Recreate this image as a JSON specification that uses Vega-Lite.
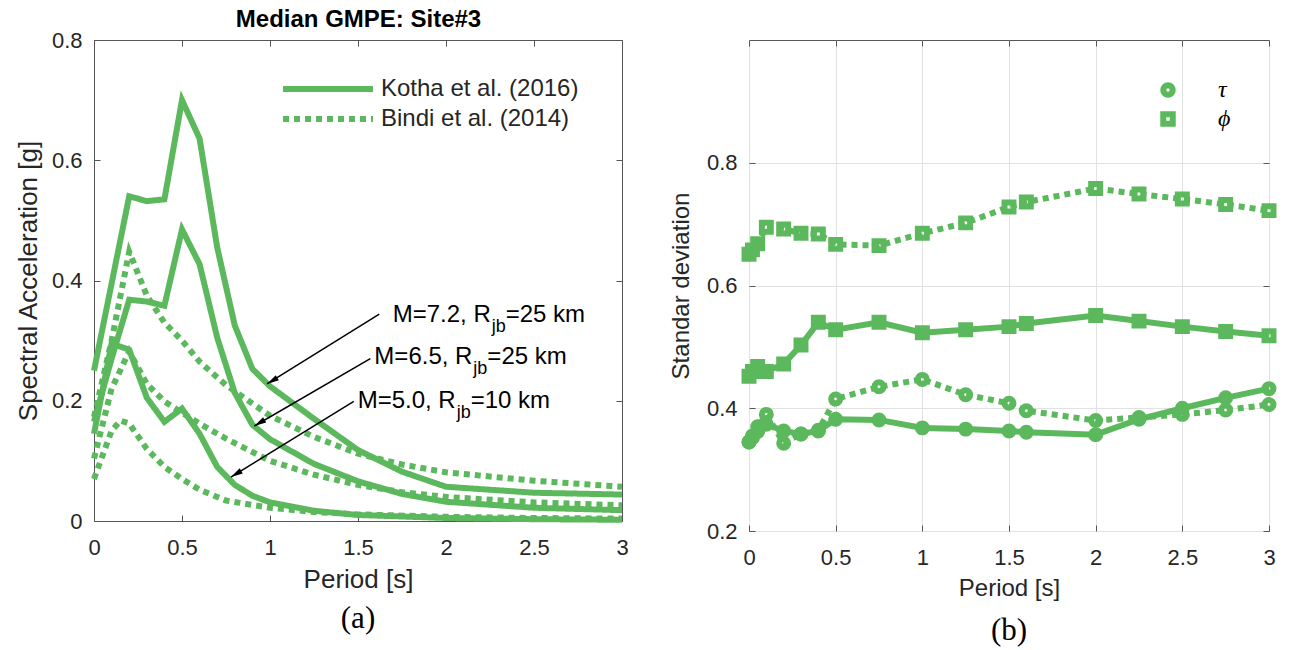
{
  "$schema": "https://vega.github.io/schema/vega-lite/v6.json",
  "background": "white",
  "padding": {"left": 14, "top": 7, "right": 0, "bottom": 0},
  "spacing": 33,
  "columns": 2,
  "align": "none",
  "config": {
    "font": "Liberation Sans",
    "view": {"stroke": "#555555", "strokeWidth": 1},
    "axis": {
      "labelFontSize": 22, "labelColor": "#262626", "titleColor": "#262626",
      "titleFontWeight": "normal", "titleFontSize": 24, "domain": false,
      "tickColor": "#555555", "tickWidth": 1, "labelFlush": false, "grid": false,
      "gridColor": "#e2e2e2", "labelPadding": 12, "titlePadding": 12, "labelOverlap": false
    },
    "legend": {"padding": 0, "labelFontSize": 23, "labelColor": "#262626", "labelLimit": 0}
  },
  "datasets": {
    "sa": [
      {"model": "Kotha et al. (2016)", "case": "7.2", "T": 0, "SA": 0.25},
      {"model": "Kotha et al. (2016)", "case": "7.2", "T": 0.1, "SA": 0.395},
      {"model": "Kotha et al. (2016)", "case": "7.2", "T": 0.2, "SA": 0.54},
      {"model": "Kotha et al. (2016)", "case": "7.2", "T": 0.3, "SA": 0.532},
      {"model": "Kotha et al. (2016)", "case": "7.2", "T": 0.4, "SA": 0.535},
      {"model": "Kotha et al. (2016)", "case": "7.2", "T": 0.5, "SA": 0.7},
      {"model": "Kotha et al. (2016)", "case": "7.2", "T": 0.6, "SA": 0.636},
      {"model": "Kotha et al. (2016)", "case": "7.2", "T": 0.7, "SA": 0.455},
      {"model": "Kotha et al. (2016)", "case": "7.2", "T": 0.8, "SA": 0.325},
      {"model": "Kotha et al. (2016)", "case": "7.2", "T": 0.9, "SA": 0.253},
      {"model": "Kotha et al. (2016)", "case": "7.2", "T": 1.0, "SA": 0.224},
      {"model": "Kotha et al. (2016)", "case": "7.2", "T": 1.25, "SA": 0.17},
      {"model": "Kotha et al. (2016)", "case": "7.2", "T": 1.5, "SA": 0.118},
      {"model": "Kotha et al. (2016)", "case": "7.2", "T": 1.75, "SA": 0.082},
      {"model": "Kotha et al. (2016)", "case": "7.2", "T": 2.0, "SA": 0.057},
      {"model": "Kotha et al. (2016)", "case": "7.2", "T": 2.5, "SA": 0.047},
      {"model": "Kotha et al. (2016)", "case": "7.2", "T": 3.0, "SA": 0.044},
      {"model": "Kotha et al. (2016)", "case": "6.5", "T": 0, "SA": 0.165},
      {"model": "Kotha et al. (2016)", "case": "6.5", "T": 0.1, "SA": 0.27},
      {"model": "Kotha et al. (2016)", "case": "6.5", "T": 0.2, "SA": 0.368},
      {"model": "Kotha et al. (2016)", "case": "6.5", "T": 0.3, "SA": 0.365},
      {"model": "Kotha et al. (2016)", "case": "6.5", "T": 0.4, "SA": 0.358},
      {"model": "Kotha et al. (2016)", "case": "6.5", "T": 0.5, "SA": 0.485},
      {"model": "Kotha et al. (2016)", "case": "6.5", "T": 0.6, "SA": 0.427},
      {"model": "Kotha et al. (2016)", "case": "6.5", "T": 0.7, "SA": 0.305},
      {"model": "Kotha et al. (2016)", "case": "6.5", "T": 0.8, "SA": 0.213},
      {"model": "Kotha et al. (2016)", "case": "6.5", "T": 0.9, "SA": 0.16},
      {"model": "Kotha et al. (2016)", "case": "6.5", "T": 1.0, "SA": 0.136},
      {"model": "Kotha et al. (2016)", "case": "6.5", "T": 1.25, "SA": 0.095},
      {"model": "Kotha et al. (2016)", "case": "6.5", "T": 1.5, "SA": 0.066},
      {"model": "Kotha et al. (2016)", "case": "6.5", "T": 1.75, "SA": 0.045},
      {"model": "Kotha et al. (2016)", "case": "6.5", "T": 2.0, "SA": 0.032},
      {"model": "Kotha et al. (2016)", "case": "6.5", "T": 2.5, "SA": 0.022},
      {"model": "Kotha et al. (2016)", "case": "6.5", "T": 3.0, "SA": 0.018},
      {"model": "Kotha et al. (2016)", "case": "5.0", "T": 0, "SA": 0.145},
      {"model": "Kotha et al. (2016)", "case": "5.0", "T": 0.1, "SA": 0.295},
      {"model": "Kotha et al. (2016)", "case": "5.0", "T": 0.2, "SA": 0.285},
      {"model": "Kotha et al. (2016)", "case": "5.0", "T": 0.3, "SA": 0.205},
      {"model": "Kotha et al. (2016)", "case": "5.0", "T": 0.4, "SA": 0.165},
      {"model": "Kotha et al. (2016)", "case": "5.0", "T": 0.5, "SA": 0.187},
      {"model": "Kotha et al. (2016)", "case": "5.0", "T": 0.6, "SA": 0.145},
      {"model": "Kotha et al. (2016)", "case": "5.0", "T": 0.7, "SA": 0.09},
      {"model": "Kotha et al. (2016)", "case": "5.0", "T": 0.8, "SA": 0.06},
      {"model": "Kotha et al. (2016)", "case": "5.0", "T": 0.9, "SA": 0.042},
      {"model": "Kotha et al. (2016)", "case": "5.0", "T": 1.0, "SA": 0.031},
      {"model": "Kotha et al. (2016)", "case": "5.0", "T": 1.25, "SA": 0.017},
      {"model": "Kotha et al. (2016)", "case": "5.0", "T": 1.5, "SA": 0.01},
      {"model": "Kotha et al. (2016)", "case": "5.0", "T": 2.0, "SA": 0.005},
      {"model": "Kotha et al. (2016)", "case": "5.0", "T": 2.5, "SA": 0.003},
      {"model": "Kotha et al. (2016)", "case": "5.0", "T": 3.0, "SA": 0.002},
      {"model": "Bindi et al. (2014)", "case": "7.2", "T": 0, "SA": 0.173},
      {"model": "Bindi et al. (2014)", "case": "7.2", "T": 0.1, "SA": 0.3},
      {"model": "Bindi et al. (2014)", "case": "7.2", "T": 0.2, "SA": 0.448},
      {"model": "Bindi et al. (2014)", "case": "7.2", "T": 0.3, "SA": 0.375},
      {"model": "Bindi et al. (2014)", "case": "7.2", "T": 0.4, "SA": 0.33},
      {"model": "Bindi et al. (2014)", "case": "7.2", "T": 0.5, "SA": 0.3},
      {"model": "Bindi et al. (2014)", "case": "7.2", "T": 0.6, "SA": 0.265},
      {"model": "Bindi et al. (2014)", "case": "7.2", "T": 0.75, "SA": 0.226},
      {"model": "Bindi et al. (2014)", "case": "7.2", "T": 1.0, "SA": 0.175},
      {"model": "Bindi et al. (2014)", "case": "7.2", "T": 1.25, "SA": 0.14},
      {"model": "Bindi et al. (2014)", "case": "7.2", "T": 1.5, "SA": 0.112},
      {"model": "Bindi et al. (2014)", "case": "7.2", "T": 1.75, "SA": 0.094},
      {"model": "Bindi et al. (2014)", "case": "7.2", "T": 2.0, "SA": 0.081},
      {"model": "Bindi et al. (2014)", "case": "7.2", "T": 2.5, "SA": 0.067},
      {"model": "Bindi et al. (2014)", "case": "7.2", "T": 3.0, "SA": 0.057},
      {"model": "Bindi et al. (2014)", "case": "6.5", "T": 0, "SA": 0.104},
      {"model": "Bindi et al. (2014)", "case": "6.5", "T": 0.1, "SA": 0.22},
      {"model": "Bindi et al. (2014)", "case": "6.5", "T": 0.2, "SA": 0.282},
      {"model": "Bindi et al. (2014)", "case": "6.5", "T": 0.3, "SA": 0.228},
      {"model": "Bindi et al. (2014)", "case": "6.5", "T": 0.4, "SA": 0.199},
      {"model": "Bindi et al. (2014)", "case": "6.5", "T": 0.5, "SA": 0.18},
      {"model": "Bindi et al. (2014)", "case": "6.5", "T": 0.6, "SA": 0.162},
      {"model": "Bindi et al. (2014)", "case": "6.5", "T": 0.75, "SA": 0.137},
      {"model": "Bindi et al. (2014)", "case": "6.5", "T": 1.0, "SA": 0.1},
      {"model": "Bindi et al. (2014)", "case": "6.5", "T": 1.25, "SA": 0.077},
      {"model": "Bindi et al. (2014)", "case": "6.5", "T": 1.5, "SA": 0.06},
      {"model": "Bindi et al. (2014)", "case": "6.5", "T": 1.75, "SA": 0.048},
      {"model": "Bindi et al. (2014)", "case": "6.5", "T": 2.0, "SA": 0.04},
      {"model": "Bindi et al. (2014)", "case": "6.5", "T": 2.5, "SA": 0.031},
      {"model": "Bindi et al. (2014)", "case": "6.5", "T": 3.0, "SA": 0.026},
      {"model": "Bindi et al. (2014)", "case": "5.0", "T": 0, "SA": 0.07},
      {"model": "Bindi et al. (2014)", "case": "5.0", "T": 0.1, "SA": 0.15},
      {"model": "Bindi et al. (2014)", "case": "5.0", "T": 0.15, "SA": 0.167},
      {"model": "Bindi et al. (2014)", "case": "5.0", "T": 0.2, "SA": 0.162},
      {"model": "Bindi et al. (2014)", "case": "5.0", "T": 0.3, "SA": 0.12},
      {"model": "Bindi et al. (2014)", "case": "5.0", "T": 0.4, "SA": 0.09},
      {"model": "Bindi et al. (2014)", "case": "5.0", "T": 0.5, "SA": 0.07},
      {"model": "Bindi et al. (2014)", "case": "5.0", "T": 0.6, "SA": 0.052},
      {"model": "Bindi et al. (2014)", "case": "5.0", "T": 0.75, "SA": 0.034},
      {"model": "Bindi et al. (2014)", "case": "5.0", "T": 1.0, "SA": 0.022},
      {"model": "Bindi et al. (2014)", "case": "5.0", "T": 1.25, "SA": 0.015},
      {"model": "Bindi et al. (2014)", "case": "5.0", "T": 1.5, "SA": 0.011},
      {"model": "Bindi et al. (2014)", "case": "5.0", "T": 2.0, "SA": 0.007},
      {"model": "Bindi et al. (2014)", "case": "5.0", "T": 2.5, "SA": 0.005},
      {"model": "Bindi et al. (2014)", "case": "5.0", "T": 3.0, "SA": 0.004}
    ],
    "ann": [
      {"label": "M=7.2, R", "sub": "jb", "rest": "=25 km", "tx": 1.697, "ty": 0.343, "ax": 1.621, "ay": 0.344, "hx": 0.983, "hy": 0.228},
      {"label": "M=6.5, R", "sub": "jb", "rest": "=25 km", "tx": 1.593, "ty": 0.272, "ax": 1.57, "ay": 0.27, "hx": 0.911, "hy": 0.158},
      {"label": "M=5.0, R", "sub": "jb", "rest": "=10 km", "tx": 1.498, "ty": 0.2, "ax": 1.476, "ay": 0.199, "hx": 0.778, "hy": 0.073}
    ],
    "sd": [
      {"param": "ϕ", "model": "Kotha", "T": 0, "sd": 0.452},
      {"param": "ϕ", "model": "Kotha", "T": 0.02, "sd": 0.46},
      {"param": "ϕ", "model": "Kotha", "T": 0.05, "sd": 0.468},
      {"param": "ϕ", "model": "Kotha", "T": 0.1, "sd": 0.46},
      {"param": "ϕ", "model": "Kotha", "T": 0.2, "sd": 0.472},
      {"param": "ϕ", "model": "Kotha", "T": 0.3, "sd": 0.503},
      {"param": "ϕ", "model": "Kotha", "T": 0.4, "sd": 0.54},
      {"param": "ϕ", "model": "Kotha", "T": 0.5, "sd": 0.528},
      {"param": "ϕ", "model": "Kotha", "T": 0.75, "sd": 0.54},
      {"param": "ϕ", "model": "Kotha", "T": 1.0, "sd": 0.523},
      {"param": "ϕ", "model": "Kotha", "T": 1.25, "sd": 0.528},
      {"param": "ϕ", "model": "Kotha", "T": 1.5, "sd": 0.533},
      {"param": "ϕ", "model": "Kotha", "T": 1.6, "sd": 0.538},
      {"param": "ϕ", "model": "Kotha", "T": 2.0, "sd": 0.551},
      {"param": "ϕ", "model": "Kotha", "T": 2.25, "sd": 0.542},
      {"param": "ϕ", "model": "Kotha", "T": 2.5, "sd": 0.533},
      {"param": "ϕ", "model": "Kotha", "T": 2.75, "sd": 0.525},
      {"param": "ϕ", "model": "Kotha", "T": 3.0, "sd": 0.518},
      {"param": "ϕ", "model": "Bindi", "T": 0, "sd": 0.651},
      {"param": "ϕ", "model": "Bindi", "T": 0.02, "sd": 0.658},
      {"param": "ϕ", "model": "Bindi", "T": 0.05, "sd": 0.668},
      {"param": "ϕ", "model": "Bindi", "T": 0.1, "sd": 0.695},
      {"param": "ϕ", "model": "Bindi", "T": 0.2, "sd": 0.692},
      {"param": "ϕ", "model": "Bindi", "T": 0.3, "sd": 0.685},
      {"param": "ϕ", "model": "Bindi", "T": 0.4, "sd": 0.684},
      {"param": "ϕ", "model": "Bindi", "T": 0.5, "sd": 0.667},
      {"param": "ϕ", "model": "Bindi", "T": 0.75, "sd": 0.665},
      {"param": "ϕ", "model": "Bindi", "T": 1.0, "sd": 0.685},
      {"param": "ϕ", "model": "Bindi", "T": 1.25, "sd": 0.702},
      {"param": "ϕ", "model": "Bindi", "T": 1.5, "sd": 0.728},
      {"param": "ϕ", "model": "Bindi", "T": 1.6, "sd": 0.736},
      {"param": "ϕ", "model": "Bindi", "T": 2.0, "sd": 0.758},
      {"param": "ϕ", "model": "Bindi", "T": 2.25, "sd": 0.749},
      {"param": "ϕ", "model": "Bindi", "T": 2.5, "sd": 0.741},
      {"param": "ϕ", "model": "Bindi", "T": 2.75, "sd": 0.732},
      {"param": "ϕ", "model": "Bindi", "T": 3.0, "sd": 0.722},
      {"param": "τ", "model": "Kotha", "T": 0, "sd": 0.345},
      {"param": "τ", "model": "Kotha", "T": 0.02, "sd": 0.352},
      {"param": "τ", "model": "Kotha", "T": 0.05, "sd": 0.362},
      {"param": "τ", "model": "Kotha", "T": 0.1, "sd": 0.374},
      {"param": "τ", "model": "Kotha", "T": 0.2, "sd": 0.363},
      {"param": "τ", "model": "Kotha", "T": 0.3, "sd": 0.358},
      {"param": "τ", "model": "Kotha", "T": 0.4, "sd": 0.363},
      {"param": "τ", "model": "Kotha", "T": 0.5, "sd": 0.382},
      {"param": "τ", "model": "Kotha", "T": 0.75, "sd": 0.381},
      {"param": "τ", "model": "Kotha", "T": 1.0, "sd": 0.368},
      {"param": "τ", "model": "Kotha", "T": 1.25, "sd": 0.366},
      {"param": "τ", "model": "Kotha", "T": 1.5, "sd": 0.363},
      {"param": "τ", "model": "Kotha", "T": 1.6, "sd": 0.361},
      {"param": "τ", "model": "Kotha", "T": 2.0, "sd": 0.357},
      {"param": "τ", "model": "Kotha", "T": 2.25, "sd": 0.382},
      {"param": "τ", "model": "Kotha", "T": 2.5, "sd": 0.4},
      {"param": "τ", "model": "Kotha", "T": 2.75, "sd": 0.417},
      {"param": "τ", "model": "Kotha", "T": 3.0, "sd": 0.432},
      {"param": "τ", "model": "Bindi", "T": 0, "sd": 0.345},
      {"param": "τ", "model": "Bindi", "T": 0.02, "sd": 0.355},
      {"param": "τ", "model": "Bindi", "T": 0.05, "sd": 0.37},
      {"param": "τ", "model": "Bindi", "T": 0.1, "sd": 0.39},
      {"param": "τ", "model": "Bindi", "T": 0.2, "sd": 0.343},
      {"param": "τ", "model": "Bindi", "T": 0.3, "sd": 0.358},
      {"param": "τ", "model": "Bindi", "T": 0.4, "sd": 0.364},
      {"param": "τ", "model": "Bindi", "T": 0.5, "sd": 0.415},
      {"param": "τ", "model": "Bindi", "T": 0.75, "sd": 0.435},
      {"param": "τ", "model": "Bindi", "T": 1.0, "sd": 0.447},
      {"param": "τ", "model": "Bindi", "T": 1.25, "sd": 0.422},
      {"param": "τ", "model": "Bindi", "T": 1.5, "sd": 0.408},
      {"param": "τ", "model": "Bindi", "T": 1.6, "sd": 0.396},
      {"param": "τ", "model": "Bindi", "T": 2.0, "sd": 0.38},
      {"param": "τ", "model": "Bindi", "T": 2.25, "sd": 0.385},
      {"param": "τ", "model": "Bindi", "T": 2.5, "sd": 0.39},
      {"param": "τ", "model": "Bindi", "T": 2.75, "sd": 0.397},
      {"param": "τ", "model": "Bindi", "T": 3.0, "sd": 0.406}
    ]
  },
  "concat": [
    {
      "width": 528,
      "height": 481,
      "title": {"text": "(a)", "orient": "bottom", "frame": "group", "anchor": "middle", "font": "Liberation Serif", "fontSize": 31, "fontWeight": "normal", "color": "#000000", "offset": 12},
      "resolve": {"axis": {"x": "independent", "y": "independent"}},
      "layer": [
        {
          "data": {"name": "sa"},
          "mark": {"type": "line", "strokeWidth": 6, "color": "#5cb85c"},
          "encoding": {
            "x": {"field": "T", "type": "quantitative", "scale": {"domain": [0, 3], "nice": false},
              "axis": {"orient": "bottom", "values": [0, 0.5, 1, 1.5, 2, 2.5, 3], "format": "~g", "ticks": false, "title": "Period [s]", "titleFontSize": 26, "labelPadding": 16, "titlePadding": 8}},
            "y": {"field": "SA", "type": "quantitative", "scale": {"domain": [0, 0.8], "nice": false},
              "axis": {"orient": "left", "values": [0, 0.2, 0.4, 0.6, 0.8], "format": "~g", "ticks": false, "title": "Spectral Acceleration [g]", "titleFontSize": 26, "labelPadding": 12, "titlePadding": 10}},
            "strokeDash": {"field": "model", "type": "nominal",
              "scale": {"domain": ["Kotha et al. (2016)", "Bindi et al. (2014)"], "range": [[1, 0], [6, 5]]},
              "legend": {"title": null, "orient": "none", "legendX": 216, "legendY": 31, "symbolType": "M-3,0H3", "symbolSize": 900, "symbolStrokeWidth": 6, "symbolStrokeColor": "#5cb85c", "labelOffset": 35, "rowPadding": 0, "labelFontSize": 24, "labelLimit": 0}},
            "detail": {"field": "case", "type": "nominal"}
          }
        },
        {
          "data": {"name": "ann"},
          "mark": {"type": "rule", "color": "#000000", "strokeWidth": 1.5},
          "encoding": {
            "x": {"field": "ax", "type": "quantitative", "scale": {"domain": [0, 3], "nice": false},
              "axis": {"orient": "top", "values": [0, 0.5, 1, 1.5, 2, 2.5, 3], "labels": false, "tickSize": -6, "labelPadding": 0, "title": "Median GMPE: Site#3", "titleFontSize": 24, "titleFontWeight": "bold", "titleColor": "#000000", "titlePadding": 8}},
            "y": {"field": "ay", "type": "quantitative", "scale": {"domain": [0, 0.8], "nice": false},
              "axis": {"orient": "right", "values": [0, 0.2, 0.4, 0.6, 0.8], "labels": false, "tickSize": -6, "title": null}},
            "x2": {"field": "hx"},
            "y2": {"field": "hy"}
          }
        },
        {
          "data": {"name": "ann"},
          "mark": {"type": "text", "align": "left", "baseline": "middle", "fontSize": 24, "color": "#000000"},
          "encoding": {
            "x": {"field": "tx", "type": "quantitative", "scale": {"domain": [0, 3], "nice": false},
              "axis": {"orient": "bottom", "values": [0, 0.5, 1, 1.5, 2, 2.5, 3], "labels": false, "tickSize": -6, "title": null}},
            "y": {"field": "ty", "type": "quantitative", "scale": {"domain": [0, 0.8], "nice": false},
              "axis": {"orient": "left", "values": [0, 0.2, 0.4, 0.6, 0.8], "labels": false, "tickSize": -6, "title": null}},
            "text": {"field": "label"}
          }
        },
        {
          "data": {"name": "ann"},
          "mark": {"type": "text", "align": "left", "baseline": "middle", "fontSize": 18, "color": "#000000", "dx": 99, "dy": 12},
          "encoding": {
            "x": {"field": "tx", "type": "quantitative", "axis": null},
            "y": {"field": "ty", "type": "quantitative", "axis": null},
            "text": {"field": "sub"}
          }
        },
        {
          "data": {"name": "ann"},
          "mark": {"type": "text", "align": "left", "baseline": "middle", "fontSize": 24, "color": "#000000", "dx": 113},
          "encoding": {
            "x": {"field": "tx", "type": "quantitative", "axis": null},
            "y": {"field": "ty", "type": "quantitative", "axis": null},
            "text": {"field": "rest"}
          }
        },
        {
          "data": {"name": "ann"},
          "mark": {"type": "point", "shape": "M0,0L-0.6,2.4L0.6,2.4Z", "size": 100, "filled": true, "color": "#000000", "opacity": 1, "angle": 239},
          "encoding": {
            "x": {"field": "hx", "type": "quantitative", "axis": null},
            "y": {"field": "hy", "type": "quantitative", "axis": null}
          }
        }
      ]
    },
    {
      "width": 520,
      "height": 491,
      "title": {"text": "(b)", "orient": "bottom", "frame": "group", "anchor": "middle", "font": "Liberation Serif", "fontSize": 31, "fontWeight": "normal", "color": "#000000", "offset": 16},
      "resolve": {"axis": {"x": "independent", "y": "independent"}},
      "layer": [
        {
          "data": {"name": "sd"},
          "transform": [{"filter": "datum.model == 'Kotha'"}],
          "mark": {"type": "line", "strokeWidth": 6, "color": "#5cb85c"},
          "encoding": {
            "x": {"field": "T", "type": "quantitative", "scale": {"domain": [0, 3], "nice": false},
              "axis": {"orient": "bottom", "values": [0, 0.5, 1, 1.5, 2, 2.5, 3], "format": "~g", "ticks": false, "grid": true, "title": "Period [s]", "labelPadding": 16, "titlePadding": 8}},
            "y": {"field": "sd", "type": "quantitative", "scale": {"domain": [0.2, 1.0], "nice": false},
              "axis": {"orient": "left", "values": [0.2, 0.4, 0.6, 0.8], "format": "~g", "ticks": false, "grid": true, "title": "Standar deviation", "labelPadding": 12, "titlePadding": 13}},
            "detail": {"field": "param", "type": "nominal"}
          }
        },
        {
          "data": {"name": "sd"},
          "transform": [{"filter": "datum.model == 'Bindi'"}],
          "mark": {"type": "line", "strokeWidth": 6, "color": "#5cb85c", "strokeDash": [6, 5]},
          "encoding": {
            "x": {"field": "T", "type": "quantitative", "scale": {"domain": [0, 3], "nice": false},
              "axis": {"orient": "bottom", "values": [0, 0.5, 1, 1.5, 2, 2.5, 3], "labels": false, "tickSize": -6, "title": null}},
            "y": {"field": "sd", "type": "quantitative", "scale": {"domain": [0.2, 1.0], "nice": false},
              "axis": {"orient": "left", "values": [0.2, 0.4, 0.6, 0.8], "labels": false, "tickSize": -6, "title": null}},
            "detail": {"field": "param", "type": "nominal"}
          }
        },
        {
          "data": {"name": "sd"},
          "mark": {"type": "point", "filled": false, "strokeWidth": 6, "size": 80, "color": "#5cb85c", "opacity": 1},
          "encoding": {
            "x": {"field": "T", "type": "quantitative", "scale": {"domain": [0, 3], "nice": false},
              "axis": {"orient": "top", "values": [0, 0.5, 1, 1.5, 2, 2.5, 3], "labels": false, "tickSize": -6, "labelPadding": 0, "title": null}},
            "y": {"field": "sd", "type": "quantitative", "scale": {"domain": [0.2, 1.0], "nice": false},
              "axis": {"orient": "right", "values": [0.2, 0.4, 0.6, 0.8], "labels": false, "tickSize": -6, "title": null}},
            "shape": {"field": "param", "type": "nominal",
              "scale": {"domain": ["τ", "ϕ"], "range": ["circle", "square"]},
              "legend": {"title": null, "orient": "none", "legendX": 1062, "legendY": 38, "symbolSize": 90, "symbolStrokeWidth": 6, "symbolStrokeColor": "#5cb85c", "symbolFillColor": "transparent", "labelOffset": 38, "rowPadding": -5, "labelFont": "Liberation Serif", "labelFontStyle": "italic", "labelFontSize": 24, "labelColor": "#000000"}}
          }
        }
      ]
    }
  ]
}
